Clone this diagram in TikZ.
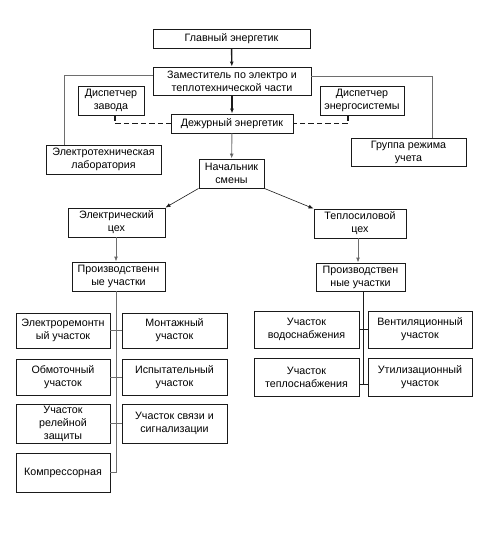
\documentclass[tikz,border=0pt]{standalone}
\usepackage{fontspec}
\setmainfont{Liberation Sans}
\usetikzlibrary{arrows.meta,positioning}
\definecolor{ink}{HTML}{1A1A1A}
\definecolor{wire}{HTML}{6E6E6E}

\begin{document}
\begin{tikzpicture}[x=1pt,y=-1pt,>={Latex[length=5pt,width=4pt]},
    unit/.style={draw=ink,line width=0.9pt,fill=white,inner sep=1pt,align=center,font=\fontsize{10.7}{13}\selectfont},
    link/.style={draw=wire,line width=0.9pt},
    boss/.style={draw=ink,line width=1.4pt},
    duty/.style={draw=ink,line width=1.5pt,dash pattern=on 5.5pt off 3pt}]
  \useasboundingbox (0,0) rectangle (491,552);
  \node[unit,minimum width=157,minimum height=19] (gl) at (231.5,38.5) {Главный энергетик};
  \node[unit,minimum width=158,minimum height=28] (zam) at (232,81) {Заместитель по электро и\\теплотехнической части};
  \node[unit,minimum width=66,minimum height=29] (dz) at (111,100.5) {Диспетчер\\завода};
  \node[unit,minimum width=84,minimum height=29] (des) at (362,100.5) {Диспетчер\\энергосистемы};
  \node[unit,minimum width=122,minimum height=19] (dej) at (232,123.5) {Дежурный энергетик};
  \node[unit,minimum width=115,minimum height=29] (lab) at (103.5,159.5) {Электротехническая\\лаборатория};
  \node[unit,minimum width=115,minimum height=28] (grp) at (408.5,152) {Группа режима\\учета};
  \node[unit,minimum width=65,minimum height=29] (nach) at (231.5,173.5) {Начальник\\смены};
  \node[unit,minimum width=97,minimum height=29] (elc) at (116.5,222.5) {Электрический\\цех};
  \node[unit,minimum width=92,minimum height=29] (tep) at (360,223.5) {Теплосиловой\\цех};
  \node[unit,minimum width=93,minimum height=29] (pul) at (118.5,276.5) {Производственн\\ые участки};
  \node[unit,minimum width=89,minimum height=28] (pur) at (360.5,277) {Производствен\\ные участки};
  % electrical sections
  \node[unit,minimum width=94,minimum height=35] (er) at (63,330.5) {Электроремонтн\\ый участок};
  \node[unit,minimum width=105,minimum height=35] (mon) at (174.5,330.5) {Монтажный\\участок};
  \node[unit,minimum width=94,minimum height=36] (obm) at (63,377) {Обмоточный\\участок};
  \node[unit,minimum width=105,minimum height=36] (isp) at (174.5,377) {Испытательный\\участок};
  \node[unit,minimum width=94,minimum height=39] (rel) at (63,423.5) {Участок\\релейной\\защиты};
  \node[unit,minimum width=105,minimum height=39] (svz) at (174.5,423.5) {Участок связи и\\сигнализации};
  \node[unit,minimum width=94,minimum height=39] (komp) at (63,472.5) {Компрессорная};
  % heat sections
  \node[unit,minimum width=105,minimum height=37] (vod) at (306.5,329.5) {Участок\\водоснабжения};
  \node[unit,minimum width=104,minimum height=37] (ven) at (420,329.5) {Вентиляционный\\участок};
  \node[unit,minimum width=105,minimum height=38] (tpl) at (306.5,377) {Участок\\теплоснабжения};
  \node[unit,minimum width=104,minimum height=38] (utl) at (420,377) {Утилизационный\\участок};

  \draw[boss,->] (gl) -- (zam);
  \draw[boss,->] (zam) -- (dej);
  \draw[link,-{Latex[length=5pt,width=4pt,fill=ink]}] (dej) -- (nach);
  \draw[link] ([yshift=6]zam.west) -| ([xshift=19]lab.north west);
  \draw[link] ([yshift=5]zam.east) -| ([xshift=-34]grp.north east);
  \draw[duty] ([xshift=4]dz.south) |- (dej.west);
  \draw[duty] ([xshift=-14]des.south) |- (dej.east);
  \draw[ink,line width=0.6pt,->] (nach.south west) -- (elc.north east);
  \draw[ink,line width=0.6pt,->] (nach.south east) -- (tep.north west);
  \draw[link,-{Latex[length=5pt,width=4pt,fill=ink]}] ([xshift=-2.5]pul.north |- elc.south) -- ([xshift=-2.5]pul.north);
  \draw[link,-{Latex[length=5pt,width=4pt,fill=ink]}] ([xshift=-2]tep.south) -- ([xshift=-2]tep.south |- pur.north);
  \draw[link] ([xshift=-2.5]pul.south) |- (komp.east);
  \draw[ink,line width=0.9pt] ([xshift=2.5]pur.south) |- ([yshift=-7]tpl.east);
  \foreach \u/\v in {er/mon,obm/isp,rel/svz}{\draw[link] (\u) -- (\v);}
  \draw[ink,line width=0.9pt] (vod) -- (ven);
  \draw[ink,line width=0.9pt] ([yshift=-7]tpl.east) -- ([yshift=-7]utl.west);
\end{tikzpicture}
\end{document}
